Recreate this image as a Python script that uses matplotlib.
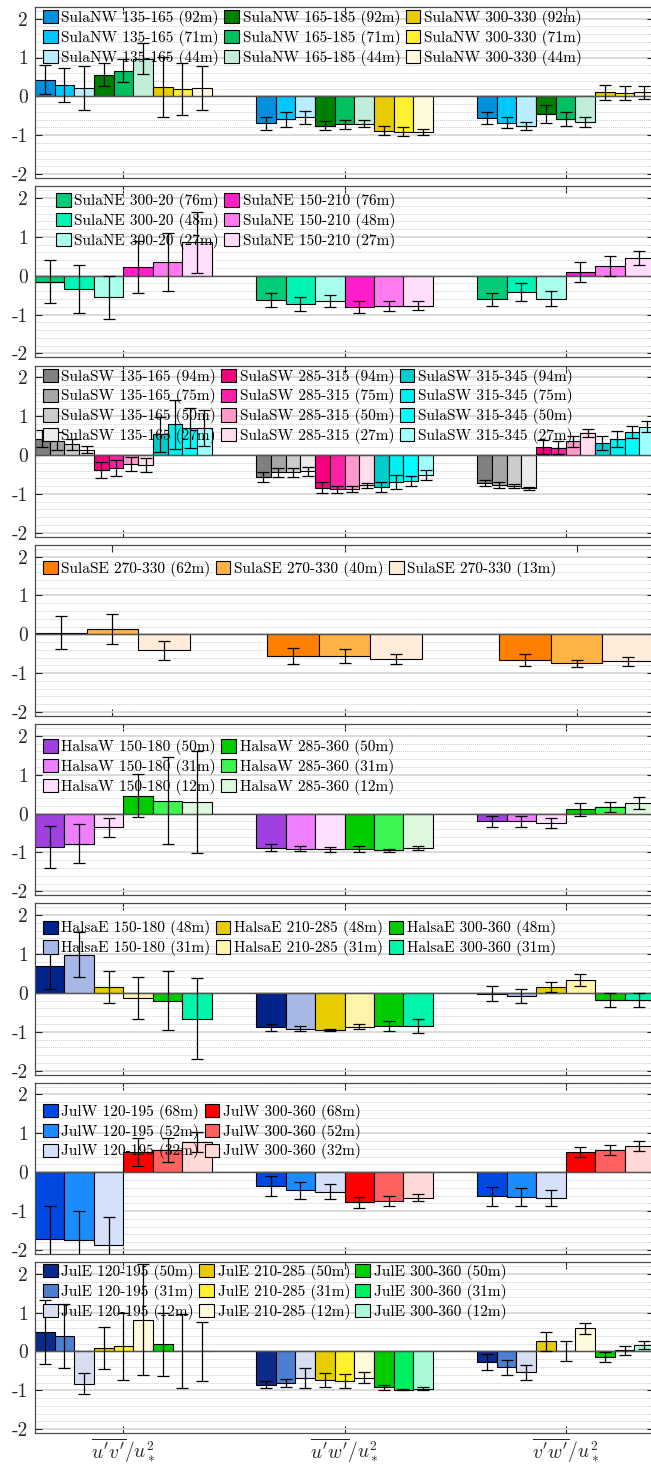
"""
Gráfico de barras agrupadas: flujos de momento normalizados por u*^2
para cada sector de viento y altura de medición (8 paneles).
"""

import numpy as np
import matplotlib
matplotlib.use("Agg")
import matplotlib.pyplot as plt
from matplotlib.ticker import MultipleLocator

plt.rcParams['font.family'] = ['cmr10', 'DejaVu Serif']
plt.rcParams['mathtext.fontset'] = 'cm'
plt.rcParams['axes.unicode_minus'] = False
plt.rcParams['axes.formatter.use_mathtext'] = True

# ----- datos -----
comp_labels = [r"$\overline{u'v'}/u_*^2$", r"$\overline{u'w'}/u_*^2$", r"$\overline{v'w'}/u_*^2$"]
yticks = [-2, -1, 0, 1, 2]
ytick_labels = ["-2", "-1", "0", "1", "2"]

# SulaNW
nw_labels = ["SulaNW 135-165 (92m)", "SulaNW 135-165 (71m)", "SulaNW 135-165 (44m)",
             "SulaNW 165-185 (92m)", "SulaNW 165-185 (71m)", "SulaNW 165-185 (44m)",
             "SulaNW 300-330 (92m)", "SulaNW 300-330 (71m)", "SulaNW 300-330 (44m)"]
nw_uv = [0.43, 0.30, 0.22, 0.56, 0.66, 0.97, 0.24, 0.19, 0.22]
nw_uw = [-0.69, -0.59, -0.54, -0.75, -0.72, -0.70, -0.88, -0.91, -0.92]
nw_vw = [-0.56, -0.68, -0.76, -0.45, -0.58, -0.66, 0.10, 0.09, 0.10]
nw_uv_err = [0.37, 0.44, 0.56, 0.29, 0.30, 0.40, 0.78, 0.68, 0.56]
nw_uw_err = [0.17, 0.19, 0.16, 0.12, 0.11, 0.10, 0.12, 0.11, 0.08]
nw_vw_err = [0.16, 0.14, 0.10, 0.24, 0.19, 0.14, 0.20, 0.18, 0.18]
nw_colors = ["#0090DD", "#00C8FF", "#B8EEFF", "#008000", "#00C060", "#C0EED8",
             "#E6CC00", "#FFF030", "#FFFADC"]

# SulaNE
ne_labels = ["SulaNE 300-20 (76m)", "SulaNE 300-20 (48m)", "SulaNE 300-20 (27m)",
             "SulaNE 150-210 (76m)", "SulaNE 150-210 (48m)", "SulaNE 150-210 (27m)"]
ne_uv = [-0.15, -0.34, -0.56, 0.23, 0.36, 0.86]
ne_uw = [-0.62, -0.72, -0.65, -0.81, -0.79, -0.77]
ne_vw = [-0.61, -0.42, -0.59, 0.09, 0.24, 0.46]
ne_uv_err = [0.56, 0.62, 0.55, 0.67, 0.75, 0.78]
ne_uw_err = [0.18, 0.18, 0.16, 0.15, 0.13, 0.11]
ne_vw_err = [0.17, 0.22, 0.19, 0.26, 0.26, 0.18]
ne_colors = ["#00CC77", "#00F5B5", "#A8FFEA", "#FF1ECC", "#FF7AF0", "#FFDDFB"]

# SulaSW
sw_labels = ["SulaSW 135-165 (94m)", "SulaSW 135-165 (75m)", "SulaSW 135-165 (50m)", "SulaSW 135-165 (27m)",
             "SulaSW 285-315 (94m)", "SulaSW 285-315 (75m)", "SulaSW 285-315 (50m)", "SulaSW 285-315 (27m)",
             "SulaSW 315-345 (94m)", "SulaSW 315-345 (75m)", "SulaSW 315-345 (50m)", "SulaSW 315-345 (27m)"]
sw_uv = [0.42, 0.36, 0.27, 0.14, -0.38, -0.34, -0.23, -0.26, 0.53, 0.79, 0.70, 0.69]
sw_uw = [-0.56, -0.45, -0.45, -0.42, -0.84, -0.88, -0.87, -0.78, -0.82, -0.69, -0.67, -0.51]
sw_vw = [-0.72, -0.77, -0.80, -0.86, 0.21, 0.19, 0.35, 0.56, 0.31, 0.41, 0.59, 0.73]
sw_uv_err = [0.22, 0.22, 0.14, 0.09, 0.20, 0.21, 0.17, 0.17, 0.45, 0.63, 0.51, 0.47]
sw_uw_err = [0.13, 0.12, 0.12, 0.12, 0.14, 0.09, 0.07, 0.07, 0.12, 0.18, 0.14, 0.13]
sw_vw_err = [0.08, 0.07, 0.05, 0.04, 0.18, 0.16, 0.14, 0.10, 0.17, 0.20, 0.15, 0.15]
sw_colors = ["#808080", "#A6A6A6", "#CCCCCC", "#EBEBEB", "#F5007E", "#FF20A8", "#FF99CC", "#FFDDEE",
             "#00CCCC", "#00F0F0", "#00FFFF", "#A0FFFF"]

# SulaSE
se_labels = ["SulaSE 270-330 (62m)", "SulaSE 270-330 (40m)", "SulaSE 270-330 (13m)"]
se_uv = [0.04, 0.13, -0.41]
se_uw = [-0.55, -0.55, -0.64]
se_vw = [-0.66, -0.75, -0.70]
se_uv_err = [0.42, 0.39, 0.24]
se_uw_err = [0.21, 0.18, 0.12]
se_vw_err = [0.15, 0.10, 0.12]
se_colors = ["#FF8000", "#FFB347", "#FFEBDA"]

# HalsaW
hw_labels = ["HalsaW 150-180 (50m)", "HalsaW 150-180 (31m)", "HalsaW 150-180 (12m)",
             "HalsaW 285-360 (50m)", "HalsaW 285-360 (31m)", "HalsaW 285-360 (12m)"]
hw_uv = [-0.86, -0.77, -0.35, 0.46, 0.33, 0.30]
hw_uw = [-0.88, -0.90, -0.92, -0.91, -0.94, -0.88]
hw_vw = [-0.20, -0.20, -0.24, 0.11, 0.16, 0.27]
hw_uv_err = [0.54, 0.51, 0.24, 0.56, 1.12, 1.31]
hw_uw_err = [0.09, 0.07, 0.07, 0.08, 0.04, 0.05]
hw_vw_err = [0.15, 0.14, 0.12, 0.16, 0.13, 0.16]
hw_colors = ["#A040E0", "#EE80FF", "#FFDFFF", "#00CC00", "#3CF550", "#DDF8DD"]

# HalsaE
he_labels = ["HalsaE 150-180 (48m)", "HalsaE 150-180 (31m)", "HalsaE 210-285 (48m)",
             "HalsaE 210-285 (31m)", "HalsaE 300-360 (48m)", "HalsaE 300-360 (31m)"]
he_uv = [0.69, 0.98, 0.15, -0.13, -0.20, -0.66]
he_uw = [-0.89, -0.92, -0.96, -0.87, -0.86, -0.84]
he_vw = [-0.02, -0.08, 0.15, 0.33, -0.19, -0.18]
he_uv_err = [0.58, 0.58, 0.42, 0.55, 0.76, 1.05]
he_uw_err = [0.09, 0.07, 0.03, 0.06, 0.13, 0.18]
he_vw_err = [0.20, 0.17, 0.13, 0.16, 0.18, 0.18]
he_colors = ["#00248C", "#A8B8E6", "#E6CC00", "#FFF5AA", "#00CC00", "#00F5AA"]

# JulW
jw_labels = ["JulW 120-195 (68m)", "JulW 120-195 (52m)", "JulW 120-195 (32m)",
             "JulW 300-360 (68m)", "JulW 300-360 (52m)", "JulW 300-360 (32m)"]
jw_uv = [-1.71, -1.75, -1.88, 0.51, 0.57, 0.77]
jw_uw = [-0.36, -0.47, -0.50, -0.77, -0.74, -0.66]
jw_vw = [-0.62, -0.64, -0.67, 0.52, 0.56, 0.67]
jw_uv_err = [0.83, 0.74, 0.73, 0.36, 0.30, 0.26]
jw_uw_err = [0.26, 0.21, 0.19, 0.14, 0.13, 0.09]
jw_vw_err = [0.24, 0.23, 0.21, 0.14, 0.13, 0.13]
jw_colors = ["#0048E0", "#1A8CFF", "#D5E0FA", "#FF0000", "#FF6060", "#FFD8D8"]

# JulE
je_labels = ["JulE 120-195 (50m)", "JulE 120-195 (31m)", "JulE 120-195 (12m)",
             "JulE 210-285 (50m)", "JulE 210-285 (31m)", "JulE 210-285 (12m)",
             "JulE 300-360 (50m)", "JulE 300-360 (31m)", "JulE 300-360 (12m)"]
je_uv = [0.50, 0.39, -0.83, 0.09, 0.13, 0.82, 0.18, 0.01, 0.00]
je_uw = [-0.85, -0.82, -0.68, -0.74, -0.77, -0.67, -0.92, -0.98, -0.96]
je_vw = [-0.27, -0.41, -0.54, 0.26, 0.01, 0.60, -0.15, 0.03, 0.16]
je_uv_err = [0.82, 0.82, 0.27, 0.54, 0.87, 1.42, 0.82, 0.95, 0.77]
je_uw_err = [0.10, 0.10, 0.25, 0.18, 0.18, 0.15, 0.07, 0.02, 0.04]
je_vw_err = [0.20, 0.19, 0.20, 0.24, 0.26, 0.14, 0.13, 0.11, 0.10]
je_colors = ["#0B2A8A", "#4D7FD1", "#D8DDF0", "#E6CC00", "#FFF030", "#FFFADC",
             "#00CC00", "#00F060", "#AAFAD8"]

# (etiquetas, medias, errores, colores, columnas de leyenda, desplazamiento leyenda en px)
paneles = [
    (nw_labels, [nw_uv, nw_uw, nw_vw], [nw_uv_err, nw_uw_err, nw_vw_err], nw_colors, 3, (8, 3)),
    (ne_labels, [ne_uv, ne_uw, ne_vw], [ne_uv_err, ne_uw_err, ne_vw_err], ne_colors, 2, (21, 7)),
    (sw_labels, [sw_uv, sw_uw, sw_vw], [sw_uv_err, sw_uw_err, sw_vw_err], sw_colors, 3, (8, 3)),
    (se_labels, [se_uv, se_uw, se_vw], [se_uv_err, se_uw_err, se_vw_err], se_colors, 3, (8, 16)),
    (hw_labels, [hw_uv, hw_uw, hw_vw], [hw_uv_err, hw_uw_err, hw_vw_err], hw_colors, 2, (8, 15)),
    (he_labels, [he_uv, he_uw, he_vw], [he_uv_err, he_uw_err, he_vw_err], he_colors, 3, (8, 17)),
    (jw_labels, [jw_uv, jw_uw, jw_vw], [jw_uv_err, jw_uw_err, jw_vw_err], jw_colors, 2, (8, 21)),
    (je_labels, [je_uv, je_uw, je_vw], [je_uv_err, je_uw_err, je_vw_err], je_colors, 3, (8, 2)),
]

# ----- figura -----
W, H = 651, 1466
fig = plt.figure(figsize=(W / 100, H / 100), dpi=100)
ax_left, ax_w, ax_h = 35, 619, 171
pitch = 179.3
gris = "#262626"
centros = np.arange(1, 4)

for k, (labels, medias, errores, colores, ncol, (dx, dy)) in enumerate(paneles):
    top = 7 + pitch * k
    ax = fig.add_axes([ax_left / W, 1 - (top + ax_h) / H, ax_w / W, ax_h / H])
    n = len(labels)
    gw = min(0.8, n / (n + 1.5))      # ancho de grupo como en MATLAB
    bw = gw / n
    medias = np.array(medias).T       # (serie, componente)
    errores = np.array(errores).T

    ax.set_axisbelow(True)
    for j in range(n):
        x = centros - gw / 2 + (j + 0.5) * bw
        ax.bar(x, medias[j], width=bw, color=colores[j], edgecolor="black",
               linewidth=0.8, label=labels[j], zorder=2)
        ax.errorbar(x, medias[j], yerr=errores[j], fmt="none", ecolor="black",
                    elinewidth=0.9, capsize=4.5, capthick=0.9, zorder=3)

    ax.axhline(0, color="#555555", lw=1.0, zorder=2.5)
    ax.set_xlim(1 - gw / 2, 3 + gw / 2)
    ax.set_ylim(-2.1, 2.3)
    ax.set_yticks(yticks)
    ax.set_yticklabels(ytick_labels)
    ax.yaxis.set_minor_locator(MultipleLocator(0.2))
    ax.set_xticks(centros)
    if k == len(paneles) - 1:
        ax.set_xticklabels(comp_labels, fontsize=14)
    else:
        ax.set_xticklabels([])
    ax.grid(True, which="major", axis="y", color="#d8d8d8", lw=1.3)
    ax.grid(True, which="minor", axis="y", color="#cfcfcf", lw=0.7, ls=(0, (1, 1)))
    ax.tick_params(which="major", direction="in", top=True, right=True, length=5,
                   width=0.8, color=gris, labelcolor=gris, labelsize=14, pad=5)
    ax.tick_params(which="minor", length=0, left=False, right=False)
    ax.tick_params(axis="x", pad=2)
    for s in ax.spines.values():
        s.set_color("#4d4d4d")
        s.set_linewidth(0.9)

    leg = ax.legend(ncol=ncol, loc="upper left", frameon=False, fontsize=11,
                    bbox_to_anchor=(dx / ax_w, 1 - dy / ax_h), borderaxespad=0, borderpad=0,
                    handlelength=0.95, handleheight=0.95, handletextpad=0.25,
                    columnspacing=0.35, labelspacing=0.25)
    leg.set_zorder(5)

fig.savefig("out.png", dpi=100)
